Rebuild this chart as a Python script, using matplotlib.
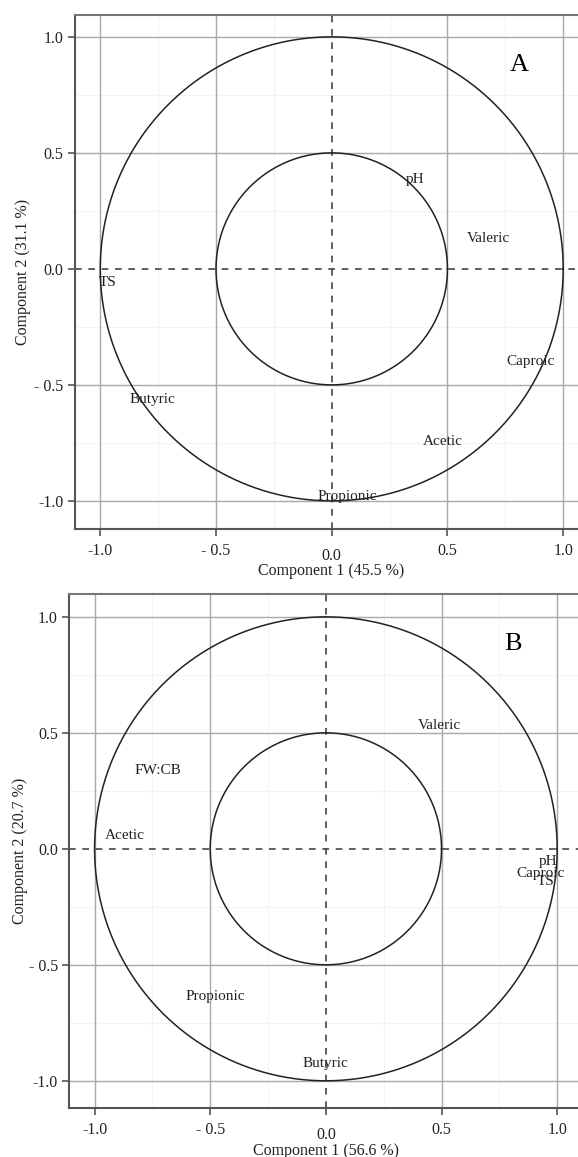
import numpy as np
import matplotlib
matplotlib.use("Agg")
import matplotlib.pyplot as plt
from matplotlib.transforms import ScaledTranslation

plt.rcParams['font.family'] = ['Liberation Serif', 'DejaVu Serif']

# ---- data (variable loadings) ----
vars_a = ["pH", "Valeric", "TS", "Caproic", "Butyric", "Acetic", "Propionic"]
pc1_a = [0.36, 0.677, -0.97, 0.858, -0.774, 0.481, 0.067]
pc2_a = [0.386, 0.132, -0.057, -0.40, -0.563, -0.744, -0.979]

vars_b = ["Valeric", "FW:CB", "Acetic", "pH", "Caproic", "TS", "Propionic", "Butyric"]
pc1_b = [0.49, -0.726, -0.867, 0.962, 0.926, 0.948, -0.479, 0.0]
pc2_b = [0.53, 0.339, 0.059, -0.056, -0.106, -0.142, -0.638, -0.925]

xlabel_a = "Component 1 (45.5 %)"
ylabel_a = "Component 2 (31.1 %)"
xlabel_b = "Component 1 (56.6 %)"
ylabel_b = "Component 2 (20.7 %)"

ticks = [-1.0, -0.5, 0.0, 0.5, 1.0]
xtick_labels = ["-1.0", "- 0.5", "0.0", "0.5", "1.0"]
ytick_labels = ["-1.0", "- 0.5", "0.0", "0.5", "1.0"]
radii = [1.0, 0.5]

fig = plt.figure(figsize=(5.78, 11.57), dpi=100)

def panel(rect, xlim, ylim, names, xs, ys, letter, letter_xy, xl, yl, xl_pos, yl_pos):
    ax = fig.add_axes(rect)
    ax.set_xlim(*xlim)
    ax.set_ylim(*ylim)
    # minor faint grid
    for v in [-0.75, -0.25, 0.25, 0.75]:
        ax.axvline(v, color="#f3f3f3", lw=0.8, zorder=0)
        ax.axhline(v, color="#f3f3f3", lw=0.8, zorder=0)
    for v in ticks:
        if v != 0:
            ax.axvline(v, color="#a8a8a8", lw=1.0, zorder=1)
            ax.axhline(v, color="#a8a8a8", lw=1.0, zorder=1)
    ax.axvline(0, color="#444444", lw=1.2, ls=(0, (4, 4)), zorder=2)
    ax.axhline(0, color="#444444", lw=1.2, ls=(0, (4, 4)), zorder=2)
    t = np.linspace(0, 2 * np.pi, 400)
    for r in radii:
        ax.plot(r * np.cos(t), r * np.sin(t), color="#222222", lw=1.1, zorder=3)
    for n, x, y in zip(names, xs, ys):
        ax.text(x, y, n, ha="center", va="center", fontsize=11, color="#222222", zorder=4)
    ax.text(letter_xy[0], letter_xy[1], letter, ha="center", va="center",
            fontsize=19, color="black", zorder=4)
    ax.set_xticks(ticks)
    ax.set_xticklabels(xtick_labels)
    ax.set_yticks(ticks)
    ax.set_yticklabels(ytick_labels)
    ax.tick_params(axis="both", labelsize=11.5, length=5, width=1.2,
                   color="#555555", labelcolor="#222222")
    ax.tick_params(axis="x", pad=5)
    ax.tick_params(axis="y", pad=3)
    for s in ["left", "bottom", "top"]:
        ax.spines[s].set_color("#555555")
        ax.spines[s].set_linewidth(1.5)
    ax.spines["top"].set_color("#777777")
    ax.spines["right"].set_visible(False)
    ax.set_xlabel(xl, fontsize=11.5, color="#222222")
    ax.set_ylabel(yl, fontsize=11.5, color="#222222")
    ax.xaxis.set_label_coords(*xl_pos)
    ax.yaxis.set_label_coords(*yl_pos)
    fig.canvas.draw()
    lbls = ax.get_xticklabels()
    lbls[2].set_transform(lbls[2].get_transform() +
                          ScaledTranslation(0, -5 / 100, fig.dpi_scale_trans))
    return ax

panel([0.1294, 0.5430, 0.8706, 0.4440], (-1.11, 1.064), (-1.12, 1.094),
      vars_a, pc1_a, pc2_a, "A", (0.81, 0.878), xlabel_a, ylabel_a,
      (0.51, -0.066), (-0.088, 0.5))
panel([0.1192, 0.04261, 0.8808, 0.4437], (-1.111, 1.09), (-1.116, 1.097),
      vars_b, pc1_b, pc2_b, "B", (0.807, 0.885), xlabel_b, ylabel_b,
      (0.505, -0.068), (-0.081, 0.5))

fig.savefig("out.png", dpi=100)
